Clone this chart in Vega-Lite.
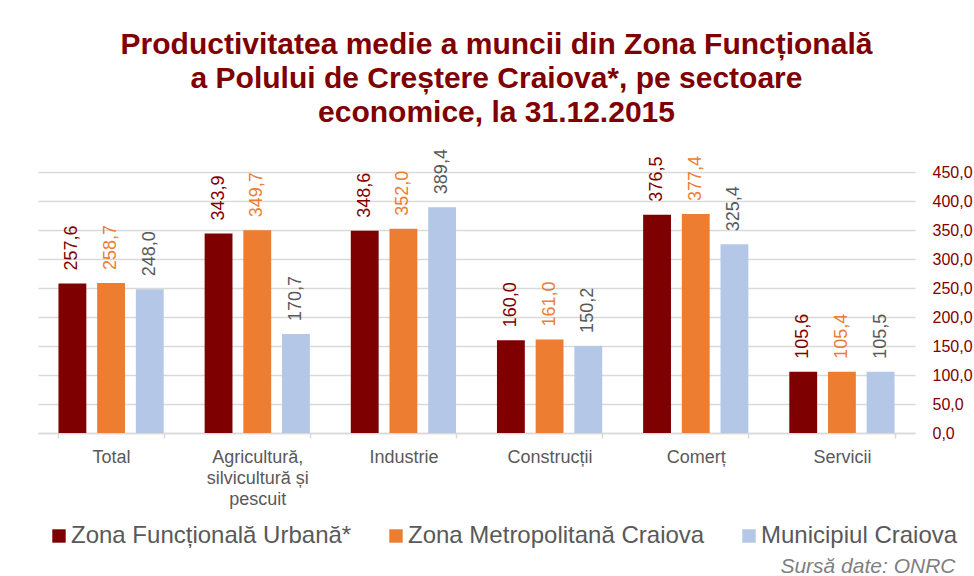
{
  "$schema": "https://vega.github.io/schema/vega-lite/v6.json",
  "width": 877,
  "height": 261,
  "autosize": "none",
  "padding": {"left": 38, "top": 172, "right": 59, "bottom": 143},
  "background": "white",
  "config": {
    "view": {"stroke": null},
    "font": "Liberation Sans",
    "locale": {
      "number": {"decimal": ",", "thousands": ".", "grouping": [3], "currency": ["", " lei"]}
    }
  },
  "title": {
    "text": ["Productivitatea medie a muncii din Zona Funcțională", "a Polului de Creștere Craiova*,  pe sectoare", "economice, la 31.12.2015"],
    "fontSize": 30,
    "fontWeight": "bold",
    "font": "Liberation Sans",
    "color": "#7F0000",
    "lineHeight": 34,
    "anchor": "middle",
    "dx": 20,
    "offset": 21
  },
  "data": {
    "values": [
      {"sector": "Total", "serie": "Zona Funcțională Urbană*", "v": 257.6},
      {"sector": "Total", "serie": "Zona Metropolitană Craiova", "v": 258.7},
      {"sector": "Total", "serie": "Municipiul Craiova", "v": 248.0},
      {"sector": "Agricultură, silvicultură și pescuit", "serie": "Zona Funcțională Urbană*", "v": 343.9},
      {"sector": "Agricultură, silvicultură și pescuit", "serie": "Zona Metropolitană Craiova", "v": 349.7},
      {"sector": "Agricultură, silvicultură și pescuit", "serie": "Municipiul Craiova", "v": 170.7},
      {"sector": "Industrie", "serie": "Zona Funcțională Urbană*", "v": 348.6},
      {"sector": "Industrie", "serie": "Zona Metropolitană Craiova", "v": 352.0},
      {"sector": "Industrie", "serie": "Municipiul Craiova", "v": 389.4},
      {"sector": "Construcții", "serie": "Zona Funcțională Urbană*", "v": 160.0},
      {"sector": "Construcții", "serie": "Zona Metropolitană Craiova", "v": 161.0},
      {"sector": "Construcții", "serie": "Municipiul Craiova", "v": 150.2},
      {"sector": "Comerț", "serie": "Zona Funcțională Urbană*", "v": 376.5},
      {"sector": "Comerț", "serie": "Zona Metropolitană Craiova", "v": 377.4},
      {"sector": "Comerț", "serie": "Municipiul Craiova", "v": 325.4},
      {"sector": "Servicii", "serie": "Zona Funcțională Urbană*", "v": 105.6},
      {"sector": "Servicii", "serie": "Zona Metropolitană Craiova", "v": 105.4},
      {"sector": "Servicii", "serie": "Municipiul Craiova", "v": 105.5}
    ]
  },
  "encoding": {
    "x": {
      "field": "sector",
      "type": "nominal",
      "sort": null,
      "scale": {"paddingInner": 0.28, "paddingOuter": 0.14},
      "axis": {
        "title": "Sursă date: ONRC",
        "titleFont": "Liberation Sans",
        "titleFontStyle": "italic",
        "titleFontWeight": "normal",
        "titleFontSize": 21,
        "titleColor": "#7F7F7F",
        "titleAnchor": "end",
        "titleAlign": "right",
        "titleBaseline": "alphabetic",
        "titleX": 917,
        "titleY": 139,
        "labelAngle": 0,
        "labelFontSize": 18,
        "labelColor": "#595959",
        "labelPadding": 10,
        "labelLineHeight": 21,
        "labelExpr": "datum.label == 'Agricultură, silvicultură și pescuit' ? ['Agricultură,', 'silvicultură și', 'pescuit'] : datum.label",
        "tickBand": "extent",
        "tickColor": "#D9D9D9",
        "tickSize": 5,
        "tickWidth": 1.5,
        "domainColor": "#D9D9D9",
        "domainWidth": 1.5
      }
    },
    "xOffset": {
      "field": "serie",
      "type": "nominal",
      "sort": ["Zona Funcțională Urbană*", "Zona Metropolitană Craiova", "Municipiul Craiova"],
      "scale": {"paddingInner": 0.28, "paddingOuter": 0}
    },
    "y": {
      "field": "v",
      "type": "quantitative",
      "scale": {"domain": [0, 450], "nice": false},
      "axis": {
        "orient": "right",
        "title": null,
        "values": [0, 50, 100, 150, 200, 250, 300, 350, 400, 450],
        "format": ".1f",
        "labelColor": "#7F0000",
        "labelFontSize": 16,
        "labelPadding": 17,
        "domain": false,
        "ticks": false,
        "grid": true,
        "gridColor": "#D9D9D9",
        "gridWidth": 1.5
      }
    }
  },
  "layer": [
    {
      "mark": {"type": "bar"},
      "encoding": {
        "color": {
          "field": "serie",
          "type": "nominal",
          "sort": ["Zona Funcțională Urbană*", "Zona Metropolitană Craiova", "Municipiul Craiova"],
          "scale": {
            "domain": ["Zona Funcțională Urbană*", "Zona Metropolitană Craiova", "Municipiul Craiova"],
            "range": ["#7F0000", "#ED7D31", "#B4C7E7"]
          },
          "legend": {
            "title": null,
            "orient": "none",
            "direction": "horizontal",
            "legendX": 9,
            "legendY": 352,
            "symbolType": "square",
            "symbolSize": 180,
            "symbolStrokeWidth": 0,
            "labelFontSize": 24,
            "labelColor": "#595959",
            "labelFont": "Liberation Sans",
            "labelLimit": 400,
            "labelOffset": 0,
            "columnPadding": 32
          }
        }
      }
    },
    {
      "mark": {"type": "text", "angle": 270, "align": "left", "baseline": "middle", "dx": 13, "fontSize": 18, "font": "Liberation Sans"},
      "encoding": {
        "text": {"field": "v", "type": "quantitative", "format": ".1f"},
        "color": {
          "field": "serie",
          "type": "nominal",
          "scale": {
            "domain": ["Zona Funcțională Urbană*", "Zona Metropolitană Craiova", "Municipiul Craiova"],
            "range": ["#7F0000", "#ED7D31", "#595959"]
          },
          "legend": null
        }
      }
    }
  ],
  "resolve": {"scale": {"color": "independent"}}
}
